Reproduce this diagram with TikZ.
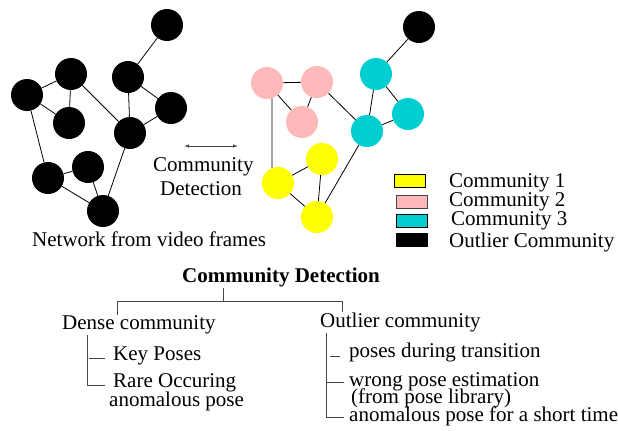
\documentclass[tikz,border=0pt]{standalone}
\usepackage{fontspec}
\setmainfont{Liberation Serif}
\usetikzlibrary{arrows.meta}
\definecolor{cpink}{RGB}{255,185,185}
\definecolor{ccyan}{RGB}{0,206,209}
\definecolor{cyel}{RGB}{255,255,0}
\definecolor{lgray}{RGB}{70,70,70}
\begin{document}
\begin{tikzpicture}[x=1bp,y=-1bp,
  vtx/.style={circle, minimum size=32bp, inner sep=0pt, draw=none},
  blk/.style={vtx, fill=black},
  pnk/.style={vtx, fill=cpink},
  cyn/.style={vtx, fill=ccyan},
  yel/.style={vtx, fill=cyel},
  edge/.style={line width=0.8bp, black},
  tline/.style={line width=0.9bp, lgray},
  txt/.style={anchor=base west, inner sep=0pt, font=\fontsize{21bp}{24bp}\selectfont},
  btxt/.style={txt, font=\fontsize{21bp}{24bp}\selectfont\bfseries},
  lbox/.style={draw=black, line width=1bp, minimum width=31bp, minimum height=13bp, inner sep=0pt}
]
\useasboundingbox (0,0) rectangle (618,430);

% ---------- left network ----------
\node[blk] (A) at (167,25) {};
\node[blk] (B) at (71,74) {};
\node[blk] (C) at (27,95) {};
\node[blk] (D) at (128,77) {};
\node[blk] (E) at (69,123) {};
\node[blk] (F) at (171,108) {};
\node[blk] (G) at (130,133) {};
\node[blk] (H) at (88,167) {};
\node[blk] (I) at (48,178) {};
\node[blk] (J) at (103,211) {};
\draw[edge] (A) -- (D);
\draw[edge] (B) -- (C);
\draw[edge] (B) -- (E);
\draw[edge] (C) -- (E);
\draw[edge] (B) -- (G);
\draw[edge] (D) -- (G);
\draw[edge] (D) -- (F);
\draw[edge] (F) -- (G);
\draw[edge] (G) -- (J);
\draw[edge] (C) -- (I);
\draw[edge] (H) -- (I);
\draw[edge] (H) -- (J);
\draw[edge] (I) -- (J);

% ---------- right network ----------
\node[blk] (a) at (419,27) {};
\node[pnk] (p1) at (267,83) {};
\node[pnk] (p2) at (317,82) {};
\node[pnk] (p3) at (302,122) {};
\node[cyn] (c1) at (376,74) {};
\node[cyn] (c2) at (408,114) {};
\node[cyn] (c3) at (367,131) {};
\node[yel] (y1) at (322,159) {};
\node[yel] (y2) at (278,183) {};
\node[yel] (y3) at (317,217) {};
\draw[edge] (a) -- (c1);
\draw[edge] (p1) -- (p2);
\draw[edge] (p1) -- (p3);
\draw[edge] (p2) -- (p3);
\draw[edge] (p2) -- (c3);
\draw[edge] (c1) -- (c3);
\draw[edge] (c1) -- (c2);
\draw[edge] (c2) -- (c3);
\draw[edge] (c3) -- (y3);
\draw[edge] (p1.-72) -- (y2.112);
\draw[edge] (y1) -- (y2);
\draw[edge] (y1) -- (y3);
\draw[edge] (y2) -- (y3);

% ---------- middle arrow and texts ----------
\coordinate (arL) at (184,146);
\coordinate (arR) at (238,146);
\draw[line width=0.8bp, lgray, {Latex[length=5bp,width=3.5bp]}-{Latex[length=5bp,width=3.5bp]}] (arL) -- (arR);
\node[txt] (cd1) at (153,171) {Community};
\node[txt] (cd2) at (160,195) {Detection};
\node[txt] (net) at (32,246) {Network from video frames};

% ---------- legend ----------
\node[lbox, fill=cyel] (l1) at (410,181) {};
\node[lbox, fill=cpink, draw=lgray] (l2) at (412,202) {};
\node[lbox, fill=ccyan] (l3) at (412,221) {};
\node[lbox, fill=black] (l4) at (412,240) {};
\node[txt] (t1) at (449,187) {Community 1};
\node[txt] (t2) at (449,206) {Community 2};
\node[txt] (t3) at (451,225) {Community 3};
\node[txt] (t4) at (449,247) {Outlier Community};

% ---------- tree ----------
\node[btxt] (head) at (182,282) {Community Detection};
\node[txt] (dense) at (62,329) {Dense community};
\node[txt] (outl) at (320,327) {Outlier community};
\node[txt] (key) at (113,360) {Key Poses};
\node[txt, text depth=2bp] (rare1) at (113,387) {Rare Occuring};
\node[txt, text height=14bp] (rare2) at (109,406) {anomalous pose};
\node[txt] (o1) at (349,357) {poses during transition};
\node[txt, text depth=2bp] (o2a) at (349,386) {wrong pose estimation};
\node[txt, text height=13bp, text depth=3bp] (o2b) at (351,403) {(from pose library)};
\node[txt, text height=13bp] (o3) at (349,421) {anomalous pose for a short time};

\coordinate (hs) at (223,288);
\coordinate (hj) at (223,301);
\coordinate (jl) at (117,301);
\coordinate (jr) at (342,301);
\coordinate (dl) at (117,315);
\coordinate (dr) at (342,312);
\draw[tline] (hs) -- (hj);
\draw[tline] (dl) -- (jl) -- (jr) -- (dr);

\coordinate (dv1) at (87,335);
\coordinate (dv2) at (87,385);
\coordinate (dk1) at (89,358);
\coordinate (dk2) at (105,358);
\coordinate (dr2) at (105,385);
\draw[tline] (dv1) -- (dv2) -- (dr2);
\draw[tline] (dk1) -- (dk2);

\coordinate (ov1) at (326,333);
\coordinate (ov2) at (326,417);
\coordinate (od1a) at (330,356);
\coordinate (od1b) at (340,356);
\coordinate (od2a) at (326,382);
\coordinate (od2b) at (344,382);
\coordinate (od3) at (344,417);
\draw[tline] (ov1) -- (ov2) -- (od3);
\draw[tline] (od1a) -- (od1b);
\draw[tline] (od2a) -- (od2b);
\end{tikzpicture}
\end{document}
